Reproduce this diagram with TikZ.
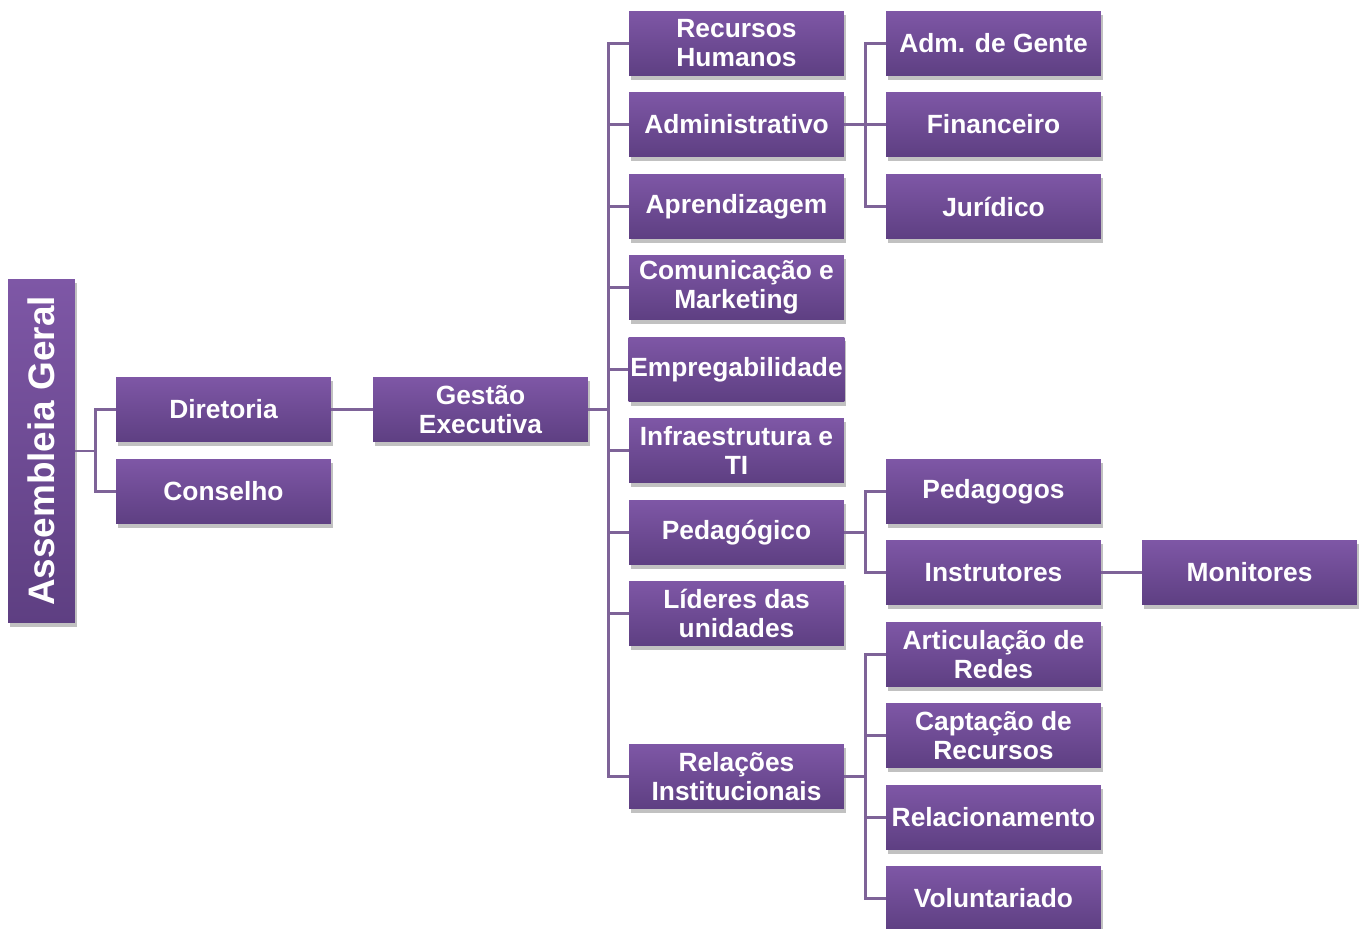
\documentclass[tikz,border=0pt]{standalone}
\usepackage{fontspec}
\setmainfont{Liberation Sans}
\usetikzlibrary{shadows}

\definecolor{boxtop}{HTML}{7E57A6}
\definecolor{boxbot}{HTML}{5E3F82}
\definecolor{linkcol}{HTML}{7E6398}

\tikzset{
  unitbox/.style={rectangle, top color=boxtop, bottom color=boxbot, text=white,
    font=\fontsize{15}{16.5}\selectfont\bfseries, align=center,
    minimum width=4.3cm, minimum height=1.3cm, inner sep=1pt,
    drop shadow={shadow xshift=0.04cm, shadow yshift=-0.08cm, opacity=0.35, fill=black!70}},
  link/.style={draw=linkcol, line width=1.5pt}
}

\begin{document}
\begin{tikzpicture}[x=0.02cm, y=-0.02cm]
\useasboundingbox (0,0) rectangle (1363,929);

% root
\node[unitbox, minimum width=1.34cm, minimum height=6.88cm, font=\fontsize{21}{23}\selectfont\bfseries] (ag) at (41.5,451) {\rotatebox{90}{Assembleia Geral}};

\node[unitbox] (dir) at (223.5,409.5) {Diretoria};
\node[unitbox] (con) at (223.5,491.5) {Conselho};
\node[unitbox] (ge) at (480.5,409.5) {Gestão\\Executiva};

% areas
\node[unitbox] (rh)  at (736.5,43.5)  {Recursos\\Humanos};
\node[unitbox] (adm) at (736.5,124.5) {Administrativo};
\node[unitbox] (apr) at (736.5,206.5) {Aprendizagem};
\node[unitbox] (com) at (736.5,287.5) {Comunicação e\\Marketing};
\node[unitbox] (emp) at (736.5,369.5) {Empregabilidade};
\node[unitbox] (inf) at (736.5,450.5) {Infraestrutura e\\TI};
\node[unitbox] (ped) at (736.5,532.5) {Pedagógico};
\node[unitbox] (lid) at (736.5,613.5) {Líderes das\\unidades};
\node[unitbox] (rel) at (736.5,776.5) {Relações\\Institucionais};

% sub areas
\node[unitbox] (gen) at (993.5,43.5)  {Adm. de Gente};
\node[unitbox] (fin) at (993.5,124.5) {Financeiro};
\node[unitbox] (jur) at (993.5,206.5) {Jurídico};
\node[unitbox] (pgg) at (993.5,491.5) {Pedagogos};
\node[unitbox] (ins) at (993.5,572.5) {Instrutores};
\node[unitbox] (mon) at (1249.5,572.5) {Monitores};
\node[unitbox] (art) at (993.5,654.5) {Articulação de\\Redes};
\node[unitbox] (cap) at (993.5,735.5) {Captação de\\Recursos};
\node[unitbox] (rlc) at (993.5,817.5) {Relacionamento};
\node[unitbox] (vol) at (993.5,898.5) {Voluntariado};

% links
\foreach \n in {dir,con}
  \draw[link] (ag.east) -- ++(20,0) |- (\n.west);
\draw[link] (dir) -- (ge);
\foreach \n in {rh,adm,apr,com,emp,inf,ped,lid,rel}
  \draw[link] (ge.east) -- ++(20,0) |- (\n.west);
\foreach \n in {gen,fin,jur}
  \draw[link] (adm.east) -- ++(21,0) |- (\n.west);
\foreach \n in {pgg,ins}
  \draw[link] (ped.east) -- ++(21,0) |- (\n.west);
\draw[link] (ins) -- (mon);
\foreach \n in {art,cap,rlc,vol}
  \draw[link] (rel.east) -- ++(21,0) |- (\n.west);

\end{tikzpicture}
\end{document}
